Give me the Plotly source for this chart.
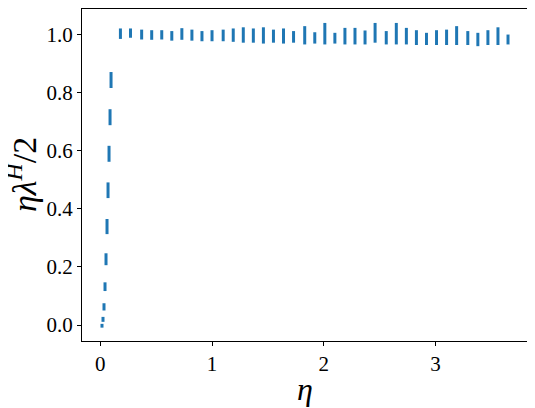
import plotly.graph_objects as go

# eta values (one column of points per eta)
eta = [0.015, 0.024, 0.033, 0.042, 0.051, 0.060, 0.069, 0.078, 0.087, 0.096,
       0.18, 0.27, 0.37, 0.46, 0.55, 0.64, 0.73, 0.82, 0.91, 1.00,
       1.10, 1.19, 1.28, 1.37, 1.46, 1.55, 1.64, 1.73, 1.83, 1.92,
       2.01, 2.10, 2.19, 2.28, 2.37, 2.46, 2.56, 2.65, 2.74, 2.83,
       2.92, 3.01, 3.10, 3.19, 3.29, 3.38, 3.47, 3.56, 3.65]

# spread of eta*lambda^H/2 within each column
y_low = [-0.009, 0.011, 0.050, 0.117, 0.206, 0.313, 0.437, 0.562, 0.688, 0.816,
         0.985, 0.989, 0.983, 0.982, 0.983, 0.979, 0.982, 0.979, 0.977, 0.977,
         0.977, 0.975, 0.972, 0.972, 0.969, 0.972, 0.969, 0.972, 0.966, 0.969,
         0.966, 0.969, 0.966, 0.966, 0.966, 0.972, 0.966, 0.966, 0.966, 0.964,
         0.964, 0.964, 0.964, 0.964, 0.964, 0.960, 0.964, 0.964, 0.966]
y_high = [0.004, 0.028, 0.075, 0.147, 0.247, 0.365, 0.491, 0.617, 0.743, 0.871,
          1.021, 1.021, 1.017, 1.015, 1.015, 1.012, 1.022, 1.017, 1.012, 1.015,
          1.017, 1.021, 1.025, 1.021, 1.025, 1.017, 1.021, 1.012, 1.029, 1.008,
          1.040, 1.006, 1.023, 1.023, 1.014, 1.040, 1.012, 1.040, 1.023, 1.015,
          1.006, 1.015, 1.017, 1.029, 1.012, 1.006, 1.015, 1.025, 1.000]

xs, ys = [], []
for e, lo, hi in zip(eta, y_low, y_high):
    xs += [e, e, None]
    ys += [lo, hi, None]

fig = go.Figure()

fig.add_trace(go.Scatter(
    x=xs,
    y=ys,
    mode='lines',
    line=dict(color='#1f77b4', width=3),
    showlegend=False,
    hoverinfo='skip'
))

serif = "'Liberation Serif', 'DejaVu Serif', serif"

axis_style = dict(
    showline=True,
    linecolor='black',
    linewidth=1,
    mirror=True,
    showgrid=False,
    zeroline=False,
    automargin=False,
    ticks='outside',
    ticklen=4,
    tickwidth=1,
    tickcolor='black',
    tickfont=dict(family=serif, size=21, color='black'),
)

fig.update_xaxes(
    range=[-0.164, 3.82],
    tickvals=[0, 1, 2, 3],
    **axis_style
)
fig.update_yaxes(
    range=[-0.055, 1.088],
    tickvals=[0.0, 0.2, 0.4, 0.6, 0.8, 1.0],
    ticktext=['0.0', '0.2', '0.4', '0.6', '0.8', '1.0'],
    **axis_style
)

# axis titles as annotations so they can be placed like the original
fig.add_annotation(
    text='<i>η</i>', xref='paper', yref='paper', x=0.5, y=0,
    yshift=-28, xanchor='center', yanchor='top', showarrow=False,
    font=dict(family=serif, size=32, color='black')
)
fig.add_annotation(
    text='<i>ηλ</i><sup><i>H</i></sup>/2', xref='paper', yref='paper', x=0, y=0.5,
    xshift=-60, xanchor='center', yanchor='middle', textangle=-90, showarrow=False,
    font=dict(family=serif, size=34, color='black')
)

# page body has an 8px margin, so the figure is sized to sit inside the window
fig.update_layout(
    width=527,
    height=400,
    margin=dict(l=74, r=8, t=1, b=67),
    font=dict(family=serif, color='black'),
    plot_bgcolor='white',
    paper_bgcolor='white',
)

fig.write_html("out.html")
